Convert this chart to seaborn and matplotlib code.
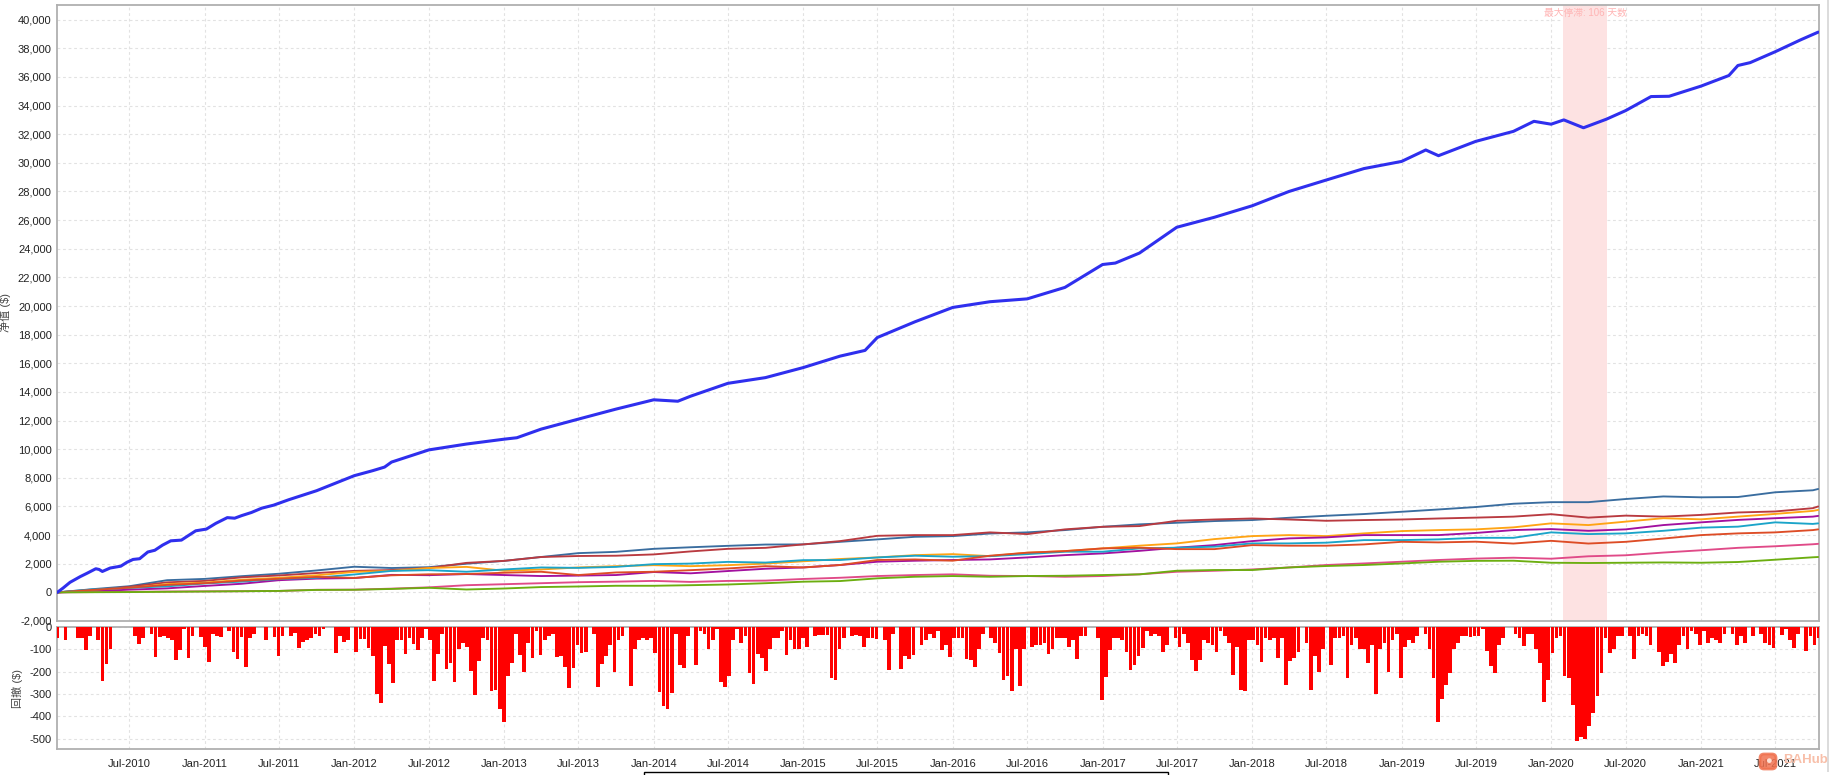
import pandas as pd
import matplotlib
matplotlib.use('Agg')
import matplotlib.pyplot as plt
from matplotlib.patches import Rectangle, FancyBboxPatch
from matplotlib.ticker import FuncFormatter
import matplotlib.dates as mdates
import seaborn as sns

W, H = 1829, 775

# --- Data ---
start_date = '2010-01-06'
end_date = '2021-10-14'

# portfolio equity
total_dates = ['2010-01-06', '2010-01-20', '2010-02-06', '2010-03-03', '2010-03-20', '2010-04-10', '2010-04-18',
               '2010-04-26', '2010-05-15', '2010-06-10', '2010-06-25', '2010-07-10', '2010-07-26', '2010-08-15',
               '2010-09-01', '2010-09-20', '2010-10-10', '2010-11-05', '2010-11-20', '2010-12-10', '2011-01-05',
               '2011-01-28', '2011-02-25', '2011-03-15', '2011-04-01', '2011-04-25', '2011-05-20', '2011-06-18',
               '2011-07-25', '2011-10-01', '2012-01-01', '2012-02-15', '2012-03-15', '2012-04-01', '2012-07-01',
               '2012-10-01', '2013-01-01', '2013-02-01', '2013-04-01', '2013-07-01', '2013-10-01', '2014-01-01',
               '2014-03-01', '2014-04-01', '2014-07-01', '2014-10-01', '2015-01-01', '2015-04-01', '2015-06-01',
               '2015-07-01', '2015-10-01', '2016-01-01', '2016-04-01', '2016-07-01', '2016-10-01', '2017-01-01',
               '2017-02-01', '2017-04-01', '2017-07-01', '2017-10-01', '2018-01-01', '2018-04-01', '2018-07-01',
               '2018-10-01', '2019-01-01', '2019-03-01', '2019-04-01', '2019-07-01', '2019-10-01', '2019-11-20',
               '2020-01-01', '2020-02-01', '2020-03-20', '2020-05-15', '2020-07-01', '2020-09-01', '2020-10-15',
               '2021-01-01', '2021-03-10', '2021-04-01', '2021-05-01', '2021-07-01', '2021-09-01', '2021-10-14']
total_equity = [0, 300, 700, 1100, 1340, 1650, 1600,
                1460, 1700, 1830, 2100, 2300, 2350, 2820,
                2940, 3300, 3600, 3650, 3930, 4300, 4420,
                4820, 5220, 5180, 5360, 5580, 5880, 6090,
                6470, 7100, 8150, 8500, 8750, 9100, 9950,
                10360, 10700, 10800, 11400, 12100, 12800, 13450,
                13350, 13700, 14600, 15000, 15700, 16500, 16900,
                17800, 18900, 19900, 20300, 20500, 21300, 22900,
                23000, 23700, 25500, 26200, 27000, 28000, 28800,
                29600, 30100, 30900, 30500, 31500, 32200, 32900,
                32700, 33000, 32450, 33050, 33650, 34630, 34650,
                35360, 36100, 36800, 37000, 37760, 38590, 39130]

# single strategies, first point, every quarter from Apr-2010 to Oct-2021, last point
steel = [0, 220, 430, 850, 940, 1130, 1300, 1530, 1790, 1700, 1760, 2000,
         2200, 2470, 2740, 2830, 3040, 3150, 3250, 3340, 3350, 3530, 3700, 3880,
         3930, 4110, 4190, 4350, 4580, 4750, 4860, 4980, 5050, 5210, 5350, 5470,
         5630, 5790, 5960, 6190, 6300, 6300, 6520, 6700, 6640, 6660, 6990, 7130, 7220]
brick = [0, 150, 390, 700, 800, 1050, 1180, 1350, 1500, 1560, 1700, 2060,
         2200, 2470, 2540, 2560, 2650, 2860, 3040, 3110, 3350, 3580, 3950, 4000,
         4000, 4190, 4070, 4400, 4580, 4630, 5000, 5090, 5160, 5090, 5000, 5050,
         5090, 5160, 5220, 5290, 5460, 5220, 5360, 5290, 5410, 5580, 5650, 5880, 6000]
orange = [0, 100, 300, 580, 680, 880, 1020, 1190, 1430, 1500, 1700, 1780,
          1510, 1600, 1740, 1830, 1900, 1830, 1900, 2010, 2170, 2330, 2440, 2600,
          2670, 2530, 2770, 2880, 3070, 3260, 3420, 3720, 3930, 4000, 3930, 4120,
          4280, 4350, 4400, 4540, 4820, 4700, 4940, 5180, 5100, 5290, 5480, 5690, 5760]
purple = [0, 60, 190, 280, 450, 600, 850, 960, 1000, 1220, 1200, 1280,
          1210, 1140, 1170, 1210, 1420, 1330, 1490, 1650, 1740, 1910, 2140, 2210,
          2260, 2300, 2440, 2600, 2720, 2900, 3120, 3300, 3580, 3770, 3840, 4000,
          4000, 4000, 4150, 4350, 4420, 4300, 4400, 4700, 4890, 5060, 5180, 5290, 5340]
cyan = [0, 200, 320, 420, 620, 750, 930, 1020, 1250, 1500, 1550, 1440,
        1600, 1740, 1710, 1780, 1970, 2010, 2130, 2080, 2250, 2260, 2440, 2560,
        2490, 2530, 2670, 2840, 2840, 3070, 3120, 3190, 3420, 3420, 3470, 3650,
        3650, 3700, 3810, 3810, 4190, 4070, 4120, 4300, 4520, 4590, 4890, 4780, 4820]
redorange = [0, 170, 330, 520, 640, 820, 950, 1080, 1010, 1190, 1260, 1280,
             1370, 1440, 1210, 1390, 1440, 1550, 1670, 1830, 1740, 1910, 2260, 2300,
             2210, 2560, 2770, 2880, 3070, 3120, 3020, 3020, 3300, 3260, 3260, 3350,
             3530, 3490, 3540, 3410, 3600, 3410, 3530, 3760, 4000, 4120, 4190, 4350, 4400]
pink = [0, 20, 40, 60, 70, 80, 100, 180, 190, 260, 350, 500,
        570, 640, 710, 750, 800, 730, 800, 820, 935, 1020, 1140, 1210,
        1260, 1160, 1140, 1090, 1140, 1260, 1440, 1510, 1600, 1740, 1910, 2020,
        2140, 2260, 2360, 2420, 2350, 2520, 2590, 2780, 2940, 3110, 3220, 3360, 3390]
green = [0, 10, 20, 40, 60, 80, 100, 170, 180, 240, 320, 200,
         270, 370, 410, 460, 460, 500, 550, 640, 745, 790, 980, 1090,
         1140, 1090, 1140, 1160, 1210, 1260, 1510, 1560, 1560, 1740, 1840, 1910,
         2020, 2140, 2200, 2210, 2070, 2050, 2070, 2090, 2070, 2120, 2280, 2450, 2470]

# drawdown, one value per 10 days from start_date
drawdown = [
    -50, 0, -57, 0, 0, -50, -50, -105, -40, 0, -60, -243, -165, -100, 0, 0, 0, 0, 0, -40,
    -78, -50, 0, -30, -135, -45, -40, -48, -60, -147, -105, -10, -137, -40, 0, -45, -90, -157, -30, -40,
    -45, 0, -20, -112, -145, -45, -180, -50, -30, 0, 0, -60, 0, -45, -130, -40, 0, -40, -25, -95,
    -65, -60, -50, -30, -40, -10, 0, 0, -115, -40, -65, -60, 0, -110, -55, -55, -95, -130, -300, -340,
    -85, -165, -252, -60, -60, -120, -50, -75, -105, -50, -10, -60, -243, -120, -30, -190, -160, -247, -100, -70,
    -90, -195, -305, -150, -50, -60, -287, -280, -365, -425, -220, -160, -30, -125, -200, -70, -137, -20, -125, -60,
    -40, -30, -133, -130, -180, -275, -185, -80, -118, -110, 0, -30, -267, -167, -130, -80, -203, -60, -40, 0,
    -265, -100, -60, -50, -60, -50, -118, -290, -353, -367, -297, -30, -170, -185, -40, 0, -170, -20, -30, -100,
    -60, -10, -245, -267, -220, -60, -10, -70, -40, -207, -257, -120, -140, -197, -100, -50, -50, -20, -125, -60,
    -100, -100, -50, -90, 0, -40, -35, -35, -35, -230, -237, -100, -50, 0, -40, -35, -40, -88, -50, -50,
    -55, 0, -60, -192, -30, 0, -190, -130, -143, -125, 0, -80, -60, -30, -50, -20, -103, -80, -133, -50,
    -50, -50, -143, -147, -180, -100, -30, 0, -50, -70, -118, -235, -220, -285, -100, -262, -100, 0, -88, -80,
    -80, -70, -122, -100, -50, -50, -50, -88, -60, -143, -40, -40, 0, 0, -50, -327, -225, -103, -50, -50,
    -60, -110, -192, -170, -130, -95, -20, -40, -30, -40, -113, -80, 0, -50, -88, -30, -70, -147, -195, -147,
    -60, -70, -80, -113, -20, -40, -70, -215, -90, -282, -285, -60, -60, -80, -158, -50, -60, -50, -137, -50,
    -260, -150, -140, -110, 0, -70, -280, -130, -200, -100, 0, -172, -50, -50, -40, -230, -80, -50, -100, -100,
    -160, -80, -300, -100, -70, -200, -60, -30, -227, -90, -60, -70, -40, 0, -30, -100, -230, -427, -320, -260,
    -207, -100, -70, -40, -40, -45, -40, -40, -10, -108, -175, -205, -80, -50, 0, 0, -30, -50, -85, -30,
    -30, -100, -160, -335, -235, -115, -50, -40, -220, -230, -350, -512, -490, -500, -445, -385, -310, -205, -50, -115,
    -100, -40, -40, 0, -40, -145, -40, -30, -40, -80, 0, -110, -175, -155, -120, -160, -80, -40, -100, -20,
    -30, -80, -20, -70, -50, -60, -70, -30, 0, -30, -80, -40, -70, 0, -40, 0, -30, -70, -80, -95,
    0, -35, -10, -60, -95, -30, 0, -108, -40, -80, -50,
]

stall_start = '2020-01-31'
stall_end = '2020-05-16'
stall_label = '最大停滞: 106 天数'

equity_ticks = list(range(-2000, 40001, 2000))
dd_ticks = [0, -100, -200, -300, -400, -500]
month_ticks = pd.date_range('2010-07-01', '2021-07-01', freq='6MS')

strategy_colors = {'steel': '#3a6d9f', 'brick': '#b93a40', 'orange': '#ffa414', 'purple': '#a2109f',
                   'cyan': '#1ba4c9', 'redorange': '#dd4c26', 'pink': '#e04a88', 'green': '#6cae10'}
strategy_values = {'steel': steel, 'brick': brick, 'orange': orange, 'purple': purple,
                   'cyan': cyan, 'redorange': redorange, 'pink': pink, 'green': green}

# --- Preprocessing ---
q_dates = [pd.Timestamp(start_date)] + list(pd.date_range('2010-04-01', '2021-10-01', freq='QS')) + [pd.Timestamp(end_date)]
frames = []
for name, vals in strategy_values.items():
    frames.append(pd.DataFrame({'date': q_dates, 'equity': vals, 'strategy': name}))
df = pd.concat(frames)
total_df = pd.DataFrame({'date': pd.to_datetime(total_dates), 'equity': total_equity})
dd_df = pd.DataFrame({'date': pd.date_range(start_date, periods=len(drawdown), freq='10D'), 'dd': drawdown})

# Set style
sns.set_theme(style='white')
plt.rcParams['font.family'] = ['Liberation Sans', 'Noto Sans CJK SC', 'DejaVu Sans']
plt.rcParams['font.size'] = 8
plt.rcParams['axes.unicode_minus'] = False


def px_box(left, top, right, bottom):
    return [left / W, 1 - bottom / H, (right - left) / W, (bottom - top) / H]


fig = plt.figure(figsize=(W / 100, H / 100), dpi=100, facecolor='white')
ax = fig.add_axes(px_box(57.3, 4.5, 1819, 621))
ax2 = fig.add_axes(px_box(57.3, 627, 1819, 749.3), sharex=ax)

# --- Equity panel ---
ax.axvspan(pd.Timestamp(stall_start), pd.Timestamp(stall_end), color='#fde2e2', lw=0, zorder=1)
sns.lineplot(data=df, x='date', y='equity', hue='strategy', palette=strategy_colors, estimator=None,
             errorbar=None, linewidth=1.35, legend=False, ax=ax, zorder=3)
sns.lineplot(data=total_df, x='date', y='equity', color='#2f2fee', estimator=None, errorbar=None,
             linewidth=2.2, ax=ax, zorder=4)
ax.text(pd.Timestamp('2020-03-24'), 40470, stall_label, color='#ffb4b4', fontsize=7, ha='center', va='center', zorder=5)
ax.set_ylim(-2000, 41060)
ax.set_yticks(equity_ticks)
ax.yaxis.set_major_formatter(FuncFormatter(lambda v, p: f'{int(v):,}'))
ax.tick_params(axis='x', labelbottom=False)

# --- Drawdown panel ---
ax2.bar(dd_df['date'], dd_df['dd'], width=9, color='#ff0000', linewidth=0, zorder=3)
ax2.set_ylim(-547, 0)
ax2.set_yticks(dd_ticks)

ax.set_xlim(pd.Timestamp(start_date), pd.Timestamp('2021-10-16'))
ax2.set_xticks(month_ticks)
ax2.xaxis.set_major_formatter(mdates.DateFormatter('%b-%Y'))

for a in (ax, ax2):
    a.set_xlabel('')
    a.set_ylabel('')
    a.grid(True, color='#e2e2e2', linestyle=(0, (2.5, 2.5)), linewidth=0.8, zorder=0)
    a.set_axisbelow(True)
    a.tick_params(length=0, pad=4, labelsize=8, colors='#222222')
    for s in a.spines.values():
        s.set_visible(True)
        s.set_color('#b0b0b0')
        s.set_linewidth(1.3)
ax2.tick_params(axis='x', pad=7)

fig.text(5.5 / W, 1 - 313 / H, '净值 ($)', rotation=90, ha='center', va='center', fontsize=8, color='#444444')
fig.text(17 / W, 1 - 688 / H, '回撤 ($)', rotation=90, ha='center', va='center', fontsize=8, color='#444444')

# --- Legend box cut off by the image edge, watermark ---
fig.add_artist(Rectangle((644 / W, 1 - 785 / H), 524 / W, 13 / H, transform=fig.transFigure, facecolor='white',
                         edgecolor='black', linewidth=1, clip_on=True))
fig.add_artist(Rectangle((1827 / W, 1 - 772 / H), 2 / W, 772 / H, transform=fig.transFigure, facecolor='#dcdcdc',
                         edgecolor='none'))
fig.add_artist(FancyBboxPatch((1760, H - 769), 16, 15, boxstyle='round,pad=0,rounding_size=4', transform=None,
                              facecolor='#f0714f', edgecolor='#f0714f', linewidth=2, alpha=0.85))
fig.text(1768 / W, 1 - 761 / H, '●', color='#fde0d6', fontsize=8, ha='center', va='center')
fig.text(1783 / W, 1 - 760 / H, 'BAHub', color='#f8bfa9', fontsize=9.5, fontweight='bold', ha='left', va='center')

fig.savefig('out.png', dpi=100)
plt.close(fig)
